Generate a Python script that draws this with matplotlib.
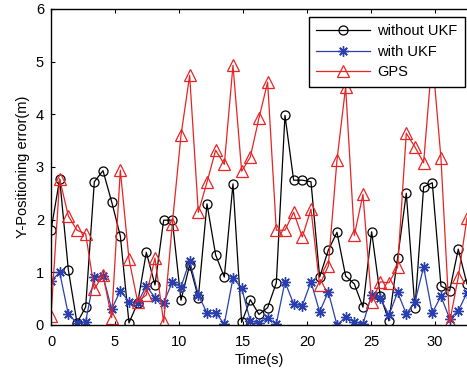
import numpy as np
import matplotlib
matplotlib.use("Agg")
import matplotlib.pyplot as plt

plt.rcParams['font.family'] = ['Liberation Sans', 'DejaVu Sans']

time_step = 0.677
without_ukf = [1.8, 2.77, 1.05, 0.04, 0.34, 2.72, 2.93, 2.34, 1.69, 0.04,
               0.42, 1.38, 0.76, 1.99, 1.99, 0.47, 1.14, 0.52, 2.3, 1.33,
               0.91, 2.68, 0.05, 0.48, 0.2, 0.33, 0.8, 3.98, 2.75, 2.75,
               2.72, 0.91, 1.42, 1.76, 0.93, 0.78, 0.34, 1.77, 0.55, 0.08,
               1.27, 2.5, 0.32, 2.62, 2.7, 0.74, 0.65, 1.44, 0.78]
with_ukf = [0.83, 1.0, 0.2, 0.04, 0.06, 0.92, 0.93, 0.3, 0.65, 0.44,
            0.42, 0.74, 0.52, 0.42, 0.82, 0.72, 1.22, 0.57, 0.23, 0.23,
            0.02, 0.89, 0.7, 0.08, 0.04, 0.13, 0.02, 0.82, 0.4, 0.37,
            0.82, 0.25, 0.63, 0.0, 0.15, 0.06, 0.02, 0.57, 0.51, 0.19,
            0.62, 0.21, 0.44, 1.1, 0.23, 0.55, 0.12, 0.27, 0.61]
gps = [0.17, 2.77, 2.07, 1.8, 1.73, 0.68, 0.95, 0.14, 2.94, 1.25,
       0.44, 0.57, 1.27, 0.05, 1.92, 3.6, 4.74, 2.14, 2.71, 3.32,
       3.05, 4.93, 2.92, 3.19, 3.93, 4.61, 1.8, 1.8, 2.14, 1.67,
       2.2, 0.76, 1.12, 3.13, 4.52, 1.7, 2.48, 0.43, 0.82, 0.8,
       1.1, 3.64, 3.38, 3.08, 5.1, 3.17, 0.05, 0.91, 2.03]
t = np.arange(len(gps)) * time_step

xticks = [0, 5, 10, 15, 20, 25, 30]
yticks = [0, 1, 2, 3, 4, 5, 6]

fig = plt.figure(figsize=(4.67, 3.72), dpi=100)
ax = fig.add_axes([51/467, 1-325/372, 1-51/467, (325-9)/372])

ax.plot(t, without_ukf, color='black', lw=0.9, marker='o', ms=6.5,
        mfc='none', mec='black', mew=0.9, label='without UKF')
ax.plot(t, with_ukf, color='#2a3fae', lw=0.9, marker=(8, 2, 0), ms=7.5,
        mfc='#2a3fae', mec='#2a3fae', mew=1.0, label='with UKF')
ax.plot(t, gps, color='#e82424', lw=0.9, marker='^', ms=9,
        mfc='none', mec='#e82424', mew=0.9, label='GPS')

ax.set_xlim(0, (467-51)/12.8)
ax.set_ylim(0, 6)
ax.set_xticks(xticks)
ax.set_yticks(yticks)
ax.tick_params(direction='in', top=True, right=False, labelsize=10.5,
               length=3, width=0.8)
ax.tick_params(axis='x', pad=7)
ax.tick_params(axis='y', pad=5)
ax.spines['right'].set_visible(False)
for s in ['left', 'top', 'bottom']:
    ax.spines[s].set_linewidth(1.0)

ax.set_xlabel('Time(s)', fontsize=10.5, labelpad=3)
ax.set_ylabel('Y-Positioning error(m)', fontsize=10.5, labelpad=4)

leg = ax.legend(loc='upper right', bbox_to_anchor=(1.0 - 2/416, 1.0 - 8/316),
                fontsize=10.5, frameon=True, fancybox=False, edgecolor='black',
                framealpha=1, handlelength=3.7, borderpad=0.5, labelspacing=0.45,
                handletextpad=0.5, borderaxespad=0)
leg.get_frame().set_linewidth(1.0)

fig.savefig('out.png', dpi=100)
